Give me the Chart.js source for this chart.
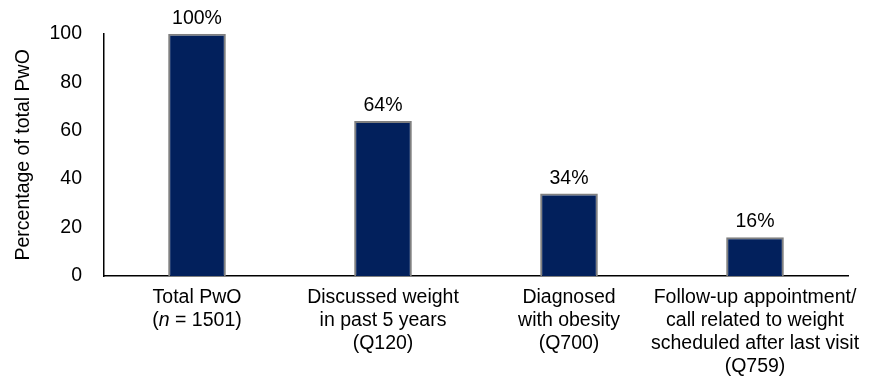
<!DOCTYPE html>
<html>
<head>
<meta charset="utf-8">
<script src="https://cdn.jsdelivr.net/npm/chart.js@4"></script>
<style>
  html, body { margin: 0; padding: 0; background: #fff; }
  #wrap { width: 878px; height: 377px; }
</style>
</head>
<body>
<div id="wrap"><canvas id="chart"></canvas></div>
<script>
// category labels, one array of lines per bar; segments marked italic where needed
const categories = [
  [[['Total PwO', false]], [['(', false], ['n', true], [' = 1501)', false]]],
  [[['Discussed weight', false]], [['in past 5 years', false]], [['(Q120)', false]]],
  [[['Diagnosed', false]], [['with obesity', false]], [['(Q700)', false]]],
  [[['Follow-up appointment/', false]], [['call related to weight', false]], [['scheduled after last visit', false]], [['(Q759)', false]]]
];
const percentages = [100, 64, 34, 16];
const yTicks = [0, 20, 40, 60, 80, 100];
const yTitle = 'Percentage of total PwO';

const FONT = 'Arial, "Liberation Sans", sans-serif';
const FS = 19.5;

// value labels above bars + multi-line category labels with mixed italics
const labelPlugin = {
  id: 'labels',
  afterDatasetsDraw(chart) {
    const ctx = chart.ctx;
    const meta = chart.getDatasetMeta(0);
    ctx.save();
    ctx.fillStyle = '#000';
    ctx.textAlign = 'center';
    ctx.textBaseline = 'alphabetic';
    ctx.font = FS + 'px ' + FONT;
    meta.data.forEach((bar, i) => {
      ctx.fillText(percentages[i] + '%', bar.x, bar.y - 10);
    });

    const xs = chart.scales.x;
    const base = chart.chartArea.bottom + 27;
    ctx.textAlign = 'left';
    categories.forEach((lines, i) => {
      const cx = xs.getPixelForValue(i);
      lines.forEach((segs, li) => {
        let total = 0;
        const widths = segs.map(([t, it]) => {
          ctx.font = (it ? 'italic ' : '') + FS + 'px ' + FONT;
          const w = ctx.measureText(t).width;
          total += w;
          return w;
        });
        let x = cx - total / 2;
        segs.forEach(([t, it], si) => {
          ctx.font = (it ? 'italic ' : '') + FS + 'px ' + FONT;
          ctx.fillText(t, x, base + li * 23);
          x += widths[si];
        });
      });
    });
    ctx.restore();
  }
};

new Chart(document.getElementById('chart'), {
  type: 'bar',
  data: {
    labels: categories.map((c, i) => 'c' + i),
    datasets: [{
      data: percentages,
      backgroundColor: '#02205c',
      borderColor: '#808080',
      borderWidth: 2,
      categoryPercentage: 1,
      barPercentage: 0.31
    }]
  },
  options: {
    responsive: true,
    maintainAspectRatio: false,
    animation: false,
    layout: { padding: { top: 33, right: 30, left: 0, bottom: 0 } },
    plugins: {
      legend: { display: false },
      tooltip: { enabled: false }
    },
    scales: {
      x: {
        grid: { display: false },
        border: { display: true, color: '#000', width: 1.5 },
        ticks: { display: false },
        afterFit: (scale) => { scale.height = 101; }
      },
      y: {
        min: 0,
        max: 100,
        grid: { display: false, drawTicks: false },
        border: { display: true, color: '#000', width: 1.5 },
        afterBuildTicks: (scale) => { scale.ticks = yTicks.map(v => ({ value: v })); },
        ticks: {
          padding: 22,
          color: '#000',
          font: { family: FONT, size: FS }
        },
        title: {
          display: true,
          text: yTitle,
          color: '#000',
          font: { family: FONT, size: FS },
          padding: { top: 12, bottom: 0 }
        },
        afterFit: (scale) => { scale.width = 104; }
      }
    }
  },
  plugins: [labelPlugin]
});
</script>
</body>
</html>
